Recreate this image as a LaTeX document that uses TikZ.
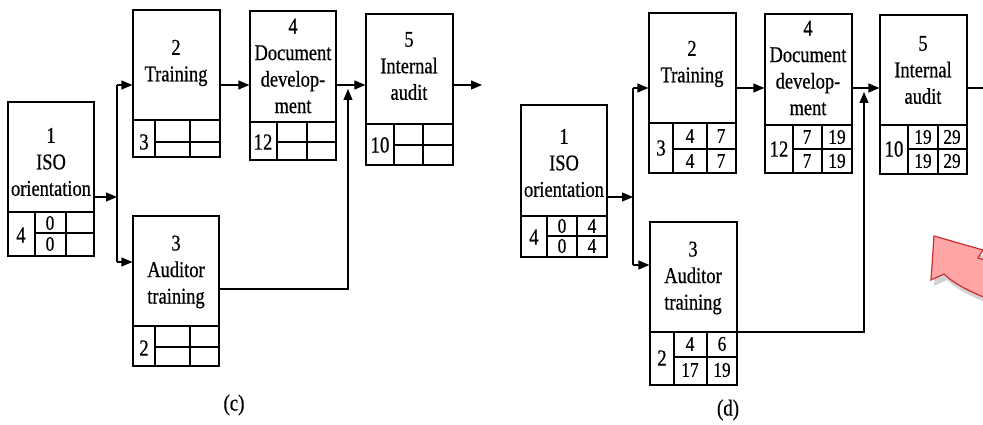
\documentclass[tikz,border=0pt]{standalone}
\usepackage{fontspec}
\setmainfont{Liberation Serif}
\newfontfamily\tallserif[FakeStretch=0.82,FakeBold=0.6]{Liberation Serif}
\usetikzlibrary{arrows.meta,fit}
\definecolor{pinkfill}{RGB}{255,165,165}
\definecolor{pinkline}{RGB}{205,45,45}
\tikzset{
  boxline/.style={line width=1.2pt},
  actbox/.style={draw, line width=1.2pt, inner sep=0pt},
  ttl/.style={align=center, font=\tallserif\fontsize{22.5}{26.5}\selectfont, inner sep=0pt},
  dur/.style={font=\tallserif\fontsize{23}{24}\selectfont, inner sep=0pt},
  cell/.style={font=\tallserif\fontsize{21}{22}\selectfont, inner sep=0pt},
  conn/.style={line width=1.2pt},
  arr/.style={conn, -{Triangle[length=11pt,width=9pt]}},
  figlabel/.style={font=\tallserif\fontsize{23}{24}\selectfont, inner sep=0pt},
}
% name, left, top, right, divider, bottom, col1, col2, mid
\newcommand\actbox[9]{%
  \node[actbox, fit={(#2,#3) (#4,#6)}] (#1) {};
  \draw[boxline] (#2,#5) -- (#4,#5) (#7,#5) -- (#7,#6) (#8,#5) -- (#8,#6) (#7,#9) -- (#4,#9);
}
\begin{document}
\begin{tikzpicture}[x=1pt,y=-1pt]
\useasboundingbox (0,0) rectangle (983,425);

% ---------------- (c) ----------------
\actbox{c1}{8}{102}{94}{212}{256}{35}{66}{233}
\node[ttl] (c1t) at (51,162) {1\\ISO\\orientation};
\node[dur] (c1d) at (21,235) {4};
\node[cell] (c1a) at (50,223) {0};
\node[cell] (c1b) at (50,244) {0};

\actbox{c2}{133}{10}{220}{120}{157}{155}{190}{142}
\node[ttl] (c2t) at (176,63) {2\\Training};
\node[dur] (c2d) at (144,142) {3};

\actbox{c4}{250}{11}{336}{122}{160}{277}{307}{142}
\node[ttl] (c4t) at (293,66) {4\\Document\\develop-\\ment};
\node[dur] (c4d) at (263,142) {12};

\actbox{c5}{366}{14}{453}{124}{165}{394}{423}{145}
\node[ttl] (c5t) at (409,66) {5\\Internal\\audit};
\node[dur] (c5d) at (380,145) {10};

\actbox{c3}{133}{216}{219}{326}{366}{155}{190}{347}
\node[ttl] (c3t) at (176,272) {3\\Auditor\\training};
\node[dur] (c3d) at (144,348) {2};

\coordinate (cjt) at (117,85);
\coordinate (cjm) at (117,197);
\coordinate (cjb) at (117,262);
\coordinate (cm) at (348,289);
\coordinate (cmt) at (348,89);
\coordinate (cout) at (482,85);
\draw[arr] (c1.east |- cjm) -- (cjm);
\draw[conn] (cjt) -- (cjb);
\draw[arr] (cjt) -- (c2.west |- cjt);
\draw[arr] (cjb) -- (c3.west |- cjb);
\draw[arr] (c2.east |- cjt) -- (c4.west |- cjt);
\draw[arr] (c4.east |- cjt) -- (c5.west |- cjt);
\draw[arr] (c3.east |- cm) -- (cm) -- (cmt);
\draw[arr] (c5.east |- cout) -- (cout);
\node[figlabel] (lc) at (234,405) {(c)};

% ---------------- (d) ----------------
\actbox{d1}{521}{105}{607}{216}{257}{547}{577}{236}
\node[ttl] (d1t) at (564,163) {1\\ISO\\orientation};
\node[dur] (d1d) at (534,237) {4};
\node[cell] (d1a) at (562,226) {0};
\node[cell] (d1b) at (592,226) {4};
\node[cell] (d1c) at (562,246) {0};
\node[cell] (d1e) at (592,246) {4};

\actbox{d2}{649}{13}{736}{123}{173}{673}{707}{149}
\node[ttl] (d2t) at (692,64) {2\\Training};
\node[dur] (d2d) at (661,148) {3};
\node[cell] (d2a) at (690,136) {4};
\node[cell] (d2b) at (721,136) {7};
\node[cell] (d2c) at (690,161) {4};
\node[cell] (d2e) at (721,161) {7};

\actbox{d4}{765}{14}{852}{125}{173}{793}{822}{149}
\node[ttl] (d4t) at (808,68) {4\\Document\\develop-\\ment};
\node[dur] (d4d) at (779,149) {12};
\node[cell] (d4a) at (807,137) {7};
\node[cell] (d4b) at (837,137) {19};
\node[cell] (d4c) at (807,161) {7};
\node[cell] (d4e) at (837,161) {19};

\actbox{d5}{880}{15}{967}{125}{174}{908}{938}{149}
\node[ttl] (d5t) at (923,70) {5\\Internal\\audit};
\node[dur] (d5d) at (894,149) {10};
\node[cell] (d5a) at (923,137) {19};
\node[cell] (d5b) at (952,137) {29};
\node[cell] (d5c) at (923,161) {19};
\node[cell] (d5e) at (952,161) {29};

\actbox{d3}{650}{222}{737}{332}{385}{674}{707}{357}
\node[ttl] (d3t) at (693,278) {3\\Auditor\\training};
\node[dur] (d3d) at (662,358) {2};
\node[cell] (d3a) at (690,344) {4};
\node[cell] (d3b) at (722,344) {6};
\node[cell] (d3c) at (690,370) {17};
\node[cell] (d3e) at (722,370) {19};

\coordinate (djt) at (633,88);
\coordinate (djm) at (633,197);
\coordinate (djb) at (633,265);
\coordinate (dm) at (864,332);
\coordinate (dmt) at (864,92);
\coordinate (dout) at (983,88);
\draw[arr] (d1.east |- djm) -- (djm);
\draw[conn] (djt) -- (djb);
\draw[arr] (djt) -- (d2.west |- djt);
\draw[arr] (djb) -- (d3.west |- djb);
\draw[arr] (d2.east |- djt) -- (d4.west |- djt);
\draw[arr] (d4.east |- djt) -- (d5.west |- djt);
\draw[arr] (d3.east |- dm) -- (dm) -- (dmt);
\draw[conn] (d5.east |- dout) -- (dout);
\node[figlabel] (ld) at (728,410) {(d)};

% ---------------- red block arrow (cut off) ----------------
\begin{scope}
\clip (0,0) rectangle (983,425);
\fill[black!18] (937,241) -- (984,256) -- (981,263) -- (1010,272) -- (1010,312)
  .. controls (985,302) and (960,293) .. (947,280) -- (934,286) -- cycle;
\filldraw[fill=pinkfill, draw=pinkline, line width=1.2pt]
  (934,236) -- (983,250) -- (978,258) -- (1010,268) -- (1010,307)
  .. controls (985,298) and (958,288) .. (944,274) -- (931,280) -- cycle;
\end{scope}
\end{tikzpicture}
\end{document}
